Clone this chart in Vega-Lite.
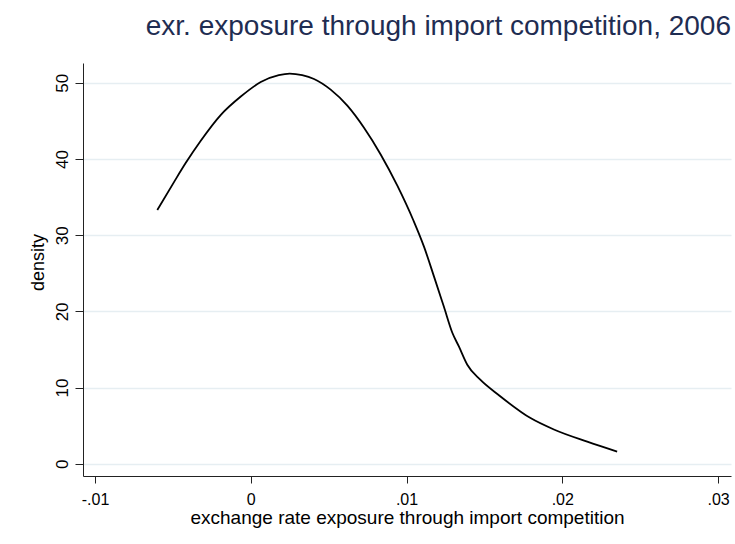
{
  "$schema": "https://vega.github.io/schema/vega-lite/v6.json",
  "width": 648,
  "height": 413,
  "autosize": "none",
  "padding": {"left": 83, "top": 63, "right": 4, "bottom": 68},
  "background": "white",
  "title": {
    "text": "exr. exposure through import competition, 2006",
    "anchor": "end",
    "font": "Liberation Sans",
    "fontSize": 28,
    "fontWeight": "normal",
    "color": "#1f2d52",
    "offset": 22
  },
  "data": {
    "values": [
      {"x": -0.0060, "y": 33.3},
      {"x": -0.00492, "y": 37.0},
      {"x": -0.00417, "y": 39.5},
      {"x": -0.00321, "y": 42.4},
      {"x": -0.00192, "y": 45.8},
      {"x": -0.00064, "y": 48.2},
      {"x": 0.00064, "y": 50.1},
      {"x": 0.0018, "y": 51.0},
      {"x": 0.0025, "y": 51.2},
      {"x": 0.0033, "y": 51.0},
      {"x": 0.00406, "y": 50.5},
      {"x": 0.00513, "y": 49.1},
      {"x": 0.0062, "y": 47.0},
      {"x": 0.00727, "y": 44.1},
      {"x": 0.00834, "y": 40.6},
      {"x": 0.00941, "y": 36.5},
      {"x": 0.01045, "y": 31.9},
      {"x": 0.01112, "y": 28.5},
      {"x": 0.01176, "y": 24.6},
      {"x": 0.0124, "y": 20.6},
      {"x": 0.01294, "y": 17.2},
      {"x": 0.01336, "y": 15.4},
      {"x": 0.0139, "y": 13.0},
      {"x": 0.01475, "y": 11.0},
      {"x": 0.01593, "y": 9.0},
      {"x": 0.01796, "y": 6.0},
      {"x": 0.01946, "y": 4.5},
      {"x": 0.0216, "y": 2.9},
      {"x": 0.02352, "y": 1.6}
    ]
  },
  "mark": {"type": "line", "color": "black", "strokeWidth": 1.8, "interpolate": "monotone"},
  "encoding": {
    "x": {
      "field": "x",
      "type": "quantitative",
      "scale": {"domain": [-0.01077, 0.03083], "nice": false, "zero": false},
      "axis": {
        "title": "exchange rate exposure through import competition",
        "values": [-0.01, 0, 0.01, 0.02, 0.03],
        "labelExpr": "datum.value == 0 ? '0' : replace(replace(format(datum.value, '.2f'), '0.', '.'), '−', '-')",
        "grid": false,
        "tickSize": 7,
        "labelPadding": 8,
        "labelFontSize": 16,
        "titlePadding": 1,
        "titleFontSize": 19
      }
    },
    "y": {
      "field": "y",
      "type": "quantitative",
      "scale": {"domain": [-1.6, 52.6], "nice": false, "zero": false},
      "axis": {
        "title": "density",
        "values": [0, 10, 20, 30, 40, 50],
        "labelAngle": -90,
        "labelAlign": "center",
        "labelBaseline": "bottom",
        "labelFontSize": 17,
        "grid": true,
        "gridColor": "#e6eef2",
        "gridWidth": 1.5,
        "tickSize": 8,
        "labelPadding": 4,
        "titlePadding": 6,
        "titleFontSize": 18,
        "titleY": 199
      }
    }
  },
  "config": {
    "view": {"stroke": null},
    "axis": {
      "labelFont": "Liberation Sans",
      "titleFont": "Liberation Sans",
      "titleFontWeight": "normal",
      "labelColor": "black",
      "titleColor": "black",
      "domainColor": "#222222",
      "tickColor": "#222222",
      "domainWidth": 1,
      "tickWidth": 1,
      "labelFlush": false,
      "labelOverlap": false
    }
  }
}
